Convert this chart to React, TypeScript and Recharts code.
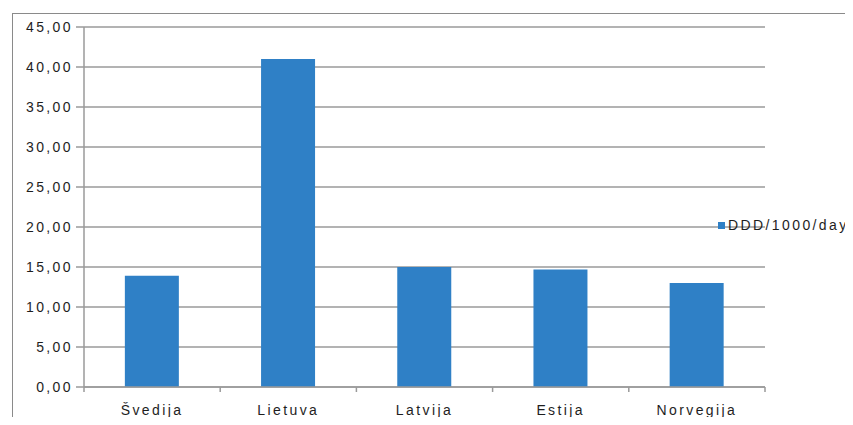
import { Bar, BarChart, CartesianGrid, Legend, XAxis, YAxis } from "recharts";

const countries = ["Švedija", "Lietuva", "Latvija", "Estija", "Norvegija"];
const dddValues = [13.9, 41.0, 15.0, 14.7, 13.0];
const yTicks = [0, 5, 10, 15, 20, 25, 30, 35, 40, 45];
const seriesName = "DDD/1000/day";

const rows = countries.map((name, i) => ({ name, value: dddValues[i] }));

const FONT = "'Liberation Sans', Arial, sans-serif";
const BLUE = "#2f80c6";
const GRID = "#9a9a9a";
const TEXT = "#1e1e1e";
const SPACING = 2.4;

const formatComma = (v: number) => v.toFixed(2).replace(".", ",");

// category label plus a short tick mark on the left edge of each band (and the right edge of the last)
function CategoryTick(props: any) {
  const { x, y, payload, index } = props;
  const half = payload?.offset || 68;
  const last = index === countries.length - 1;
  const top = y - 6;
  return (
    <g>
      <line x1={x - half} x2={x - half} y1={top} y2={top + 5} stroke={GRID} strokeWidth={1.5} />
      {last && <line x1={x + half} x2={x + half} y1={top} y2={top + 5} stroke={GRID} strokeWidth={1.5} />}
      <text
        x={x}
        y={top + 28}
        textAnchor="middle"
        fill={TEXT}
        fontSize={14}
        fontFamily={FONT}
        letterSpacing={SPACING}
      >
        {payload.value}
      </text>
    </g>
  );
}

function ValueTick(props: any) {
  const { x, y, payload } = props;
  return (
    <text
      x={x}
      y={y + 5}
      textAnchor="end"
      fill={TEXT}
      fontSize={14}
      fontFamily={FONT}
      letterSpacing={SPACING}
    >
      {formatComma(payload.value)}
    </text>
  );
}

function LegendBox({ payload }: any) {
  return (
    <div style={{ display: "flex", alignItems: "center", fontFamily: FONT, fontSize: 14, letterSpacing: SPACING, color: TEXT, whiteSpace: "nowrap" }}>
      {(payload || []).map((p: any) => (
        <span key={p.value} style={{ display: "flex", alignItems: "center" }}>
          <span style={{ width: 7, height: 7, background: p.color, marginRight: 3, display: "inline-block" }} />
          {p.value}
        </span>
      ))}
    </div>
  );
}

export default function App() {
  return (
    <div style={{ position: "relative", width: 853, height: 425, margin: -8, overflow: "hidden", background: "#fff" }}>
      <div
        style={{
          position: "absolute",
          left: 12,
          top: 13,
          width: 900,
          height: 500,
          borderLeft: "1.5px solid #8a8a8a",
          borderTop: "1.5px solid #8a8a8a",
        }}
      />
      <BarChart
        width={853}
        height={425}
        data={rows}
        margin={{ top: 27, right: 88, bottom: -8, left: 12 }}
        barCategoryGap="30%"
        style={{ position: "absolute", left: 0, top: 0 }}
      >
        <CartesianGrid vertical={false} stroke={GRID} strokeWidth={1.5} />
        <XAxis
          dataKey="name"
          height={30}
          axisLine={{ stroke: GRID, strokeWidth: 1.5 }}
          tickLine={false}
          tick={<CategoryTick />}
          tickMargin={0}
          interval={0}
        />
        <YAxis
          width={72}
          domain={[0, 45]}
          ticks={yTicks}
          axisLine={{ stroke: GRID, strokeWidth: 1.5 }}
          tickLine={{ stroke: GRID, strokeWidth: 1.5 }}
          tickSize={8}
          tickMargin={3}
          tick={<ValueTick />}
        />
        <Legend
          content={<LegendBox />}
          wrapperStyle={{ position: "absolute", left: 718, top: 217, width: "auto" }}
        />
        <Bar dataKey="value" name={seriesName} fill={BLUE} isAnimationActive={false} />
      </BarChart>
    </div>
  );
}
